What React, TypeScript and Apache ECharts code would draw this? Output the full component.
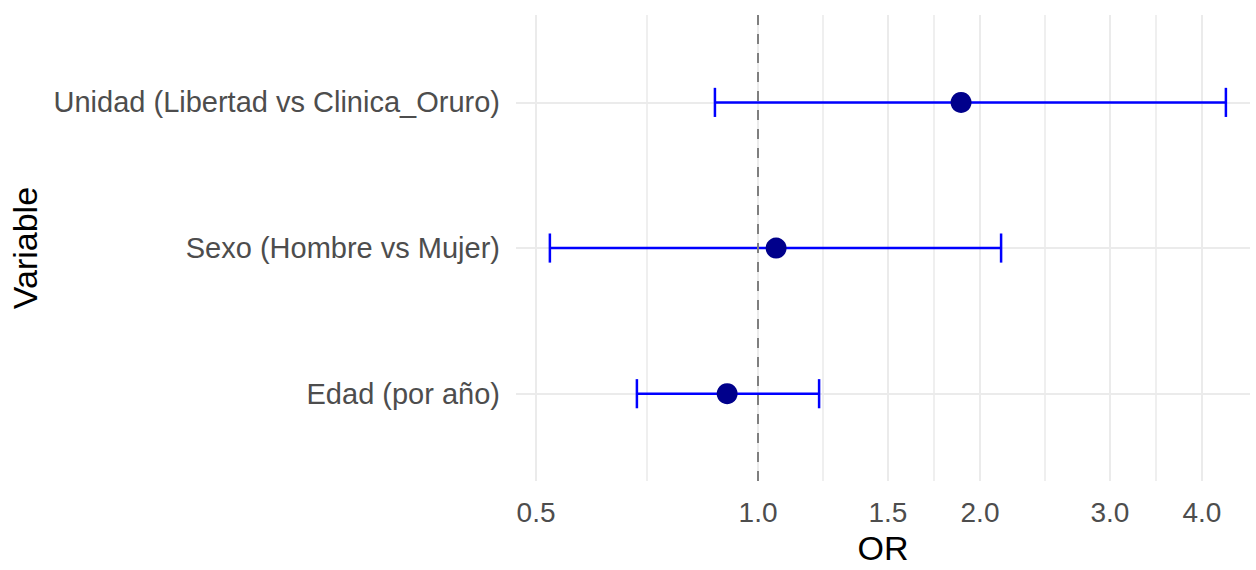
import React, { useEffect, useRef } from "react";
import * as echarts from "echarts";

// ---- Data (odds ratios with 95% CI) ----
const variables = [
  "Edad (por año)",
  "Sexo (Hombre vs Mujer)",
  "Unidad (Libertad vs Clinica_Oruro)",
];
const orValues = [0.908, 1.058, 1.885];
const lowerCI = [0.685, 0.522, 0.874];
const upperCI = [1.21, 2.136, 4.31];

// x axis (log scale) breaks
const xTickValues = [0.5, 1.0, 1.5, 2.0, 3.0, 4.0];
const xMinorValues = [0.7071, 1.2247, 1.7321, 2.4495, 3.4641];
const xLimits = [0.4696, 4.647];
const refValue = 1;

const log2 = (v: number) => Math.log(v) / Math.LN2;
const FONT = "'Liberation Sans', Arial, sans-serif";

export default function App() {
  const ref = useRef<HTMLDivElement>(null);

  useEffect(() => {
    document.body.style.margin = "0";
    if (!ref.current) return;
    const chart = echarts.init(ref.current, null, { renderer: "svg" });

    const yPos = variables.map((_, i) => i + 1);
    const pointData = orValues.map((v, i) => [log2(v), yPos[i]]);
    const ciData = lowerCI.map((lo, i) => [log2(lo), yPos[i], log2(upperCI[i])]);

    const gridColor = "#EBEBEB";

    chart.setOption({
      animation: false,
      backgroundColor: "#FFFFFF",
      grid: { left: 516, right: 6, top: 15, bottom: 77, containLabel: false },
      xAxis: [
        {
          type: "value",
          min: log2(xLimits[0]),
          max: log2(xLimits[1]),
          axisLine: { show: false },
          axisTick: { show: false, customValues: xTickValues.map(log2) },
          axisLabel: {
            customValues: xTickValues.map(log2),
            formatter: (v: number) => Math.pow(2, v).toFixed(1),
            color: "#4D4D4D",
            fontSize: 28,
            fontFamily: FONT,
            margin: 17,
          },
          splitLine: { show: true, lineStyle: { color: gridColor, width: 2 } },
          name: "OR",
          nameLocation: "middle",
          nameGap: 49,
          nameTextStyle: { color: "#000000", fontSize: 34, fontFamily: FONT },
        },
        {
          type: "value",
          min: log2(xLimits[0]),
          max: log2(xLimits[1]),
          axisLine: { show: false },
          axisTick: { show: false, customValues: xMinorValues.map(log2) },
          axisLabel: { show: false, customValues: xMinorValues.map(log2) },
          splitLine: { show: true, lineStyle: { color: gridColor, width: 1.6 } },
        },
      ],
      yAxis: {
        type: "value",
        min: 0.4,
        max: 3.6,
        axisLine: { show: false },
        axisTick: { show: false, customValues: yPos },
        axisLabel: {
          customValues: yPos,
          formatter: (v: number) => variables[Math.round(v) - 1] ?? "",
          color: "#4D4D4D",
          fontSize: 29,
          fontFamily: FONT,
          margin: 16,
        },
        splitLine: { show: true, lineStyle: { color: gridColor, width: 2 } },
        name: "Variable",
        nameLocation: "middle",
        nameGap: 474,
        nameRotate: 90,
        nameTextStyle: { color: "#000000", fontSize: 34, fontFamily: FONT },
      },
      series: [
        {
          type: "line",
          data: [],
          z: 1,
          markLine: {
            silent: true,
            symbol: "none",
            label: { show: false },
            lineStyle: { color: "#7F7F7F", width: 2, type: [10, 9] },
            data: [{ xAxis: log2(refValue) }],
          },
        },
        {
          type: "custom",
          z: 2,
          data: ciData,
          encode: { x: [0, 2], y: 1 },
          renderItem: (params: any, api: any) => {
            const lo = api.value(0);
            const y = api.value(1);
            const hi = api.value(2);
            const pLo = api.coord([lo, y]);
            const pHi = api.coord([hi, y]);
            const h = api.size([0, 0.1])[1];
            const style = { stroke: "#0000FF", lineWidth: 2.5, fill: "none" };
            return {
              type: "group",
              children: [
                { type: "line", shape: { x1: pLo[0], y1: pLo[1], x2: pHi[0], y2: pHi[1] }, style },
                { type: "line", shape: { x1: pLo[0], y1: pLo[1] - h, x2: pLo[0], y2: pLo[1] + h }, style },
                { type: "line", shape: { x1: pHi[0], y1: pHi[1] - h, x2: pHi[0], y2: pHi[1] + h }, style },
              ],
            };
          },
        },
        {
          type: "scatter",
          z: 3,
          data: pointData,
          symbol: "circle",
          symbolSize: 21,
          itemStyle: { color: "#00008B", opacity: 1 },
        },
      ],
    });

    return () => chart.dispose();
  }, []);

  return <div ref={ref} style={{ width: 1256, height: 570 }} />;
}
